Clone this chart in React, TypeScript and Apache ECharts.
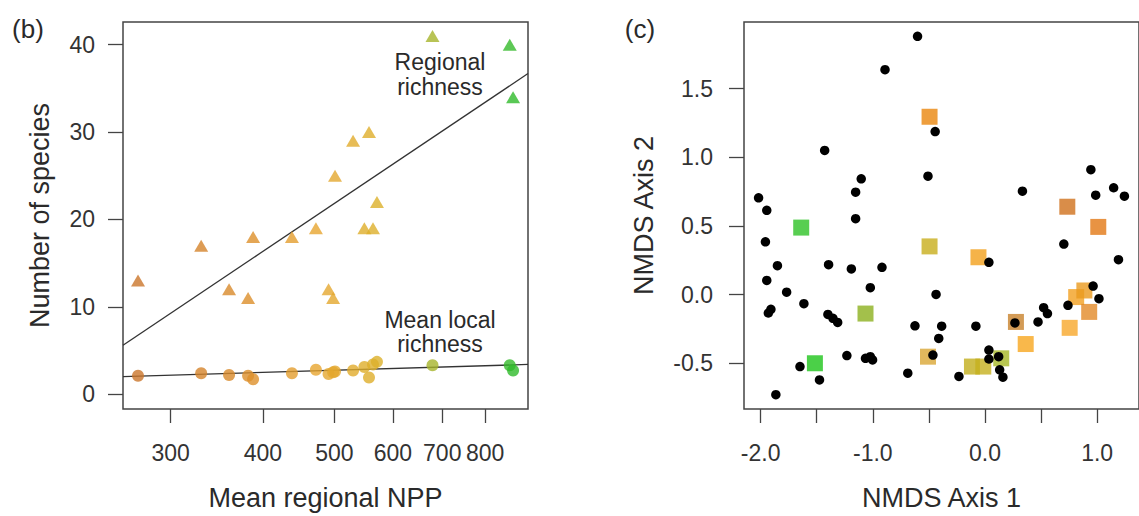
import React, { useEffect, useRef } from "react";
import * as echarts from "echarts";

// ---------- Panel (b): regional NPP vs species richness ----------
const npp = [271, 330, 360, 382, 388, 438, 472, 491, 498, 501, 530, 549, 557, 564, 571, 679, 864, 873];
const regionalRichness = [13, 17, 12, 11, 18, 18, 19, 12, 11, 25, 29, 19, 30, 19, 22, 41, 40, 34];
const localRichness = [2.1, 2.4, 2.2, 2.1, 1.7, 2.4, 2.8, 2.3, 2.5, 2.6, 2.7, 3.1, 1.9, 3.4, 3.7, 3.3, 3.3, 2.7];
const regionalFit = [[258.6, 5.6], [914.6, 36.7]];
const localFit = [[258.6, 2.0], [914.6, 3.4]];
const nppTicks = [300, 400, 500, 600, 700, 800];
const speciesTicks = [0, 10, 20, 30, 40];

// ---------- Panel (c): NMDS ordination ----------
const siteX = [
  -0.891, -1.429, -1.103, -1.153, -1.153, -2.018, -1.945, -1.957, -1.85, -1.394,
  -1.191, -0.918, -1.022, -1.945, -1.768, -1.614, -1.908, -1.931, -1.4, -1.355,
  -1.313, -1.231, -1.065, -1.022, -1.002, -1.649, -1.475, -1.864, -0.601, -0.444,
  -0.508, 0.334, 0.035, -0.436, -0.624, -0.386, -0.412, -0.081, 0.267, 0.473,
  0.523, 0.557, -0.464, -0.688, -0.232, 0.035, 0.035, 0.122, 0.131, 0.16,
  0.944, 1.147, 1.243, 0.987, 0.703, 1.19, 0.964, 1.016, 0.74,
];
const siteY = [
  1.639, 1.051, 0.844, 0.747, 0.554, 0.706, 0.615, 0.385, 0.212, 0.219,
  0.188, 0.2, 0.051, 0.104, 0.019, -0.065, -0.106, -0.133, -0.143, -0.172,
  -0.202, -0.443, -0.463, -0.451, -0.475, -0.523, -0.62, -0.728, 1.882, 1.188,
  0.863, 0.754, 0.236, 0.002, -0.226, -0.229, -0.318, -0.229, -0.205, -0.198,
  -0.094, -0.137, -0.439, -0.571, -0.595, -0.403, -0.468, -0.451, -0.547, -0.6,
  0.911, 0.779, 0.718, 0.725, 0.369, 0.255, 0.063, -0.029, -0.077,
];
const regionX = [-1.638, -1.516, -1.065, -0.494, -0.494, -0.058, 0.276, 0.363, -0.508, -0.116, -0.015, 0.145, 0.734, 1.01, 0.813, 0.886, 0.929, 0.755];
const regionY = [0.489, -0.499, -0.137, 1.296, 0.352, 0.273, -0.198, -0.359, -0.451, -0.523, -0.523, -0.463, 0.641, 0.494, -0.017, 0.031, -0.125, -0.241];
const regionColors = [
  "#2ec226", "#1ec41a", "#8cb01e", "#ea860c", "#c8ae1c", "#f2a01c", "#c8822c", "#f7a61e", "#d9a634",
  "#c2ae1c", "#c6b01e", "#a6b826", "#d0701c", "#e27814", "#f2a020", "#ea9a1e", "#e28a28", "#f7a82a",
];
const axis1Ticks = [-2, -1.5, -1, -0.5, 0, 0.5, 1];
const axis1Labels = [-2, -1, 0, 1];
const axis2Ticks = [-0.5, 0, 0.5, 1, 1.5];

const FONT = "'Liberation Sans', Arial, sans-serif";
const TXT = "#2a2a2a";
const AX = "#444";

export default function App() {
  const ref = useRef<HTMLDivElement>(null);

  useEffect(() => {
    document.body.style.margin = "0";
    const chart = echarts.init(ref.current!, null, { renderer: "svg" });

    const tickStyle = { lineStyle: { color: AX, width: 1.3 }, length: 14 };
    const labelStyle = { fontSize: 23, color: "#333", fontFamily: FONT };
    const nameStyle = { fontSize: 27, color: TXT, fontFamily: FONT };
    const hiddenLine = { show: false, onZero: false };

    chart.setOption({
      animation: false,
      backgroundColor: "#ffffff",
      grid: [
        { left: 123, top: 22, width: 405, height: 390, show: true, borderColor: AX, borderWidth: 1.5, backgroundColor: "transparent" },
        { left: 744, top: 22, width: 404, height: 390, show: true, borderColor: AX, borderWidth: 1.5, backgroundColor: "transparent" },
      ],
      xAxis: [
        {
          gridIndex: 0, type: "log", logBase: 10, min: 258.6, max: 914.6,
          axisLine: hiddenLine, splitLine: { show: false },
          axisTick: { show: true, customValues: nppTicks, ...tickStyle },
          axisLabel: { customValues: nppTicks, margin: 32, ...labelStyle },
          minorTick: { show: false },
          name: "Mean regional NPP", nameLocation: "middle", nameGap: 75, nameTextStyle: nameStyle,
        },
        {
          gridIndex: 1, type: "value", min: -2.148, max: 1.373,
          axisLine: hiddenLine, splitLine: { show: false },
          axisTick: { show: true, customValues: axis1Ticks, ...tickStyle },
          axisLabel: { customValues: axis1Labels, margin: 32, formatter: (v: number) => v.toFixed(1), ...labelStyle },
          name: "NMDS Axis 1", nameLocation: "middle", nameGap: 75, nameTextStyle: nameStyle,
        },
      ],
      yAxis: [
        {
          gridIndex: 0, type: "value", min: -1.7, max: 42.6,
          axisLine: hiddenLine, splitLine: { show: false },
          axisTick: { show: true, customValues: speciesTicks, ...tickStyle, length: 15 },
          axisLabel: { customValues: speciesTicks, margin: 28, ...labelStyle },
          name: "Number of species", nameLocation: "middle", nameGap: 70, nameTextStyle: nameStyle,
        },
        {
          gridIndex: 1, type: "value", min: -0.832, max: 1.986,
          axisLine: hiddenLine, splitLine: { show: false },
          axisTick: { show: true, customValues: axis2Ticks, ...tickStyle, length: 15 },
          axisLabel: { customValues: axis2Ticks, margin: 31, formatter: (v: number) => v.toFixed(1), ...labelStyle },
          name: "NMDS Axis 2", nameLocation: "middle", nameGap: 87, nameTextStyle: nameStyle,
        },
      ],
      visualMap: [
        {
          type: "continuous", show: false, seriesIndex: [2, 3], dimension: 0, min: 260, max: 880,
          inRange: { color: ["#c8742a", "#d98a2a", "#e8a430", "#dcb02a", "#aab42a", "#66bc2e", "#2cba2a"] },
        },
      ],
      series: [
        {
          type: "line", xAxisIndex: 0, yAxisIndex: 0, data: regionalFit, symbol: "none",
          lineStyle: { color: "#333", width: 1.3 }, silent: true, z: 2,
        },
        {
          type: "line", xAxisIndex: 0, yAxisIndex: 0, data: localFit, symbol: "none",
          lineStyle: { color: "#333", width: 1.3 }, silent: true, z: 2,
        },
        {
          type: "scatter", xAxisIndex: 0, yAxisIndex: 0, symbol: "triangle", symbolSize: [14, 12],
          data: npp.map((x, i) => [x, regionalRichness[i]]), z: 3,
        },
        {
          type: "scatter", xAxisIndex: 0, yAxisIndex: 0, symbol: "circle", symbolSize: 12,
          data: npp.map((x, i) => [x, localRichness[i]]), z: 3,
        },
        {
          type: "scatter", xAxisIndex: 1, yAxisIndex: 1, symbol: "rect", symbolSize: 16,
          data: regionX.map((x, i) => ({ value: [x, regionY[i]], itemStyle: { color: regionColors[i] } })), z: 3,
        },
        {
          type: "scatter", xAxisIndex: 1, yAxisIndex: 1, symbol: "circle", symbolSize: 9.5,
          itemStyle: { color: "#000", opacity: 1 },
          data: siteX.map((x, i) => [x, siteY[i]]), z: 4,
        },
      ],
      graphic: [
        { type: "text", x: 28, y: 29, style: { text: "(b)", fontSize: 26, fontFamily: FONT, fill: TXT, align: "center", verticalAlign: "middle" } },
        { type: "text", x: 640, y: 29, style: { text: "(c)", fontSize: 26, fontFamily: FONT, fill: TXT, align: "center", verticalAlign: "middle" } },
        { type: "text", x: 440, y: 74, style: { text: "Regional\nrichness", fontSize: 23, lineHeight: 25, fontFamily: FONT, fill: TXT, align: "center", verticalAlign: "middle" } },
        { type: "text", x: 440, y: 332, style: { text: "Mean local\nrichness", fontSize: 23, lineHeight: 24, fontFamily: FONT, fill: TXT, align: "center", verticalAlign: "middle" } },
      ],
    });

    return () => chart.dispose();
  }, []);

  return <div ref={ref} style={{ width: 1139, height: 516, overflow: "hidden" }} />;
}
